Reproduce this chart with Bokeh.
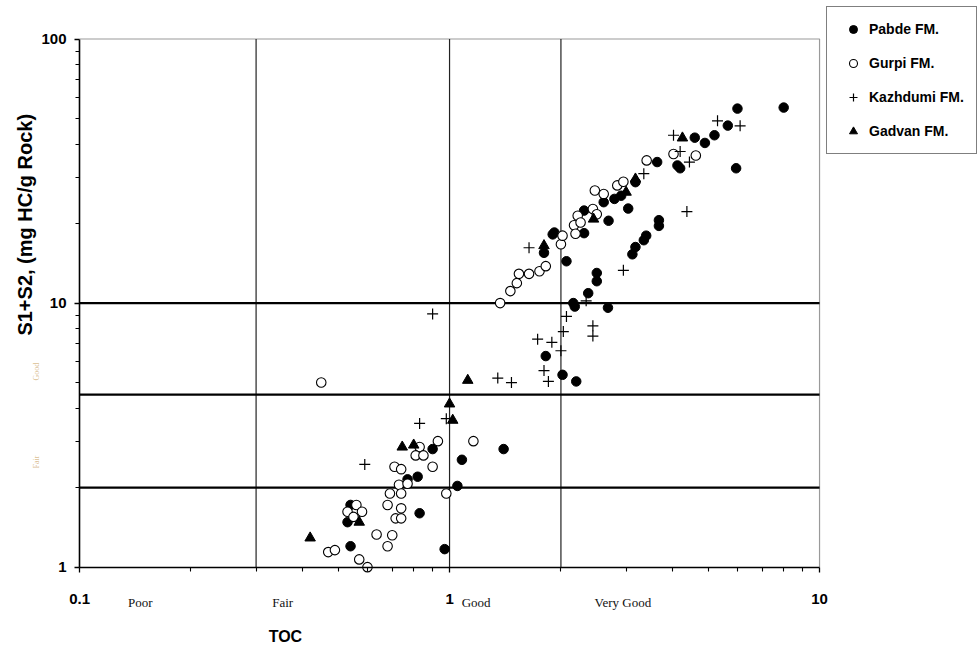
from bokeh.plotting import figure
from bokeh.models import Label, Legend, LegendItem, FixedTicker, CustomJSTickFormatter
from bokeh.embed import file_html
from bokeh.resources import INLINE

# TOC (wt%) and S1+S2 (mg HC/g rock) per formation
pabde_toc = [0.54, 0.54, 0.53, 0.77, 0.82, 0.83, 0.90, 0.97, 1.05, 1.08, 1.40,
             1.82, 2.02, 2.20, 2.16, 2.18, 2.68, 2.37, 2.50, 2.50, 3.12, 3.18,
             3.35, 3.40, 3.68, 3.68,
             1.80, 1.90, 1.92, 2.07, 2.31, 2.31, 2.61, 2.69, 2.79, 2.91, 3.04,
             3.18, 3.64, 4.13, 4.20, 4.60, 4.90, 5.20, 5.65, 5.95, 6.00, 8.00]
pabde_s1s2 = [1.20, 1.72, 1.48, 2.15, 2.20, 1.60, 2.80, 1.17, 2.03, 2.55, 2.80,
              6.30, 5.35, 5.05, 10.0, 9.70, 9.60, 10.9, 12.1, 13.0, 15.3, 16.3,
              17.3, 18.0, 19.6, 20.6,
              15.5, 18.2, 18.5, 14.4, 18.4, 22.4, 24.1, 20.5, 24.8, 25.5, 22.8,
              28.7, 34.2, 33.2, 32.4, 42.3, 40.4, 43.2, 47.0, 32.4, 54.5, 55.0]

gurpi_toc = [0.45, 0.93, 1.16, 0.83, 0.81, 0.85, 0.71, 0.74, 0.90, 0.73, 0.77,
             0.69, 0.74, 0.98, 0.68, 0.74, 0.715, 0.74, 0.56, 0.53, 0.58, 0.55,
             0.635, 0.70, 0.68, 0.47, 0.49, 0.57, 0.60,
             1.37, 1.46, 1.52, 1.54, 1.64, 1.75, 1.82, 2.00, 2.02, 2.17, 2.19,
             2.22, 2.26, 2.44, 2.50, 2.47, 2.61, 2.84, 2.95, 3.41, 4.03, 4.63]
gurpi_s1s2 = [5.00, 3.00, 3.00, 2.85, 2.65, 2.65, 2.40, 2.35, 2.40, 2.05, 2.07,
              1.90, 1.90, 1.90, 1.72, 1.67, 1.53, 1.53, 1.72, 1.62, 1.62, 1.55,
              1.33, 1.32, 1.20, 1.14, 1.16, 1.07, 1.00,
              10.0, 11.1, 11.9, 12.9, 12.9, 13.2, 13.8, 16.7, 18.0, 19.7, 18.3,
              21.4, 20.2, 22.7, 21.7, 26.7, 25.9, 27.9, 28.8, 34.7, 36.7, 36.2]

kazhdumi_toc = [0.59, 0.83, 0.98, 0.90, 1.35, 1.47, 1.73, 1.64, 1.80, 1.85,
                1.89, 2.00, 2.03, 2.07, 2.34, 2.44, 2.44, 2.95, 3.35, 4.03,
                4.20, 4.45, 4.38, 5.30, 6.10]
kazhdumi_s1s2 = [2.45, 3.50, 3.65, 9.10, 5.20, 5.00, 7.30, 16.2, 5.55, 5.05,
                 7.10, 6.60, 7.80, 8.90, 10.2, 8.20, 7.50, 13.3, 30.9, 43.2,
                 37.5, 34.2, 22.2, 49.0, 46.9]

gadvan_toc = [0.42, 0.57, 0.745, 0.80, 1.00, 1.02, 1.12, 1.80, 2.45, 3.00,
              3.18, 4.26]
gadvan_s1s2 = [1.29, 1.48, 2.85, 2.90, 4.15, 3.60, 5.10, 16.5, 20.8, 26.3,
               29.5, 42.2]

# class boundaries of the source-rock quality chart
toc_bounds = [0.3, 1, 2]
s1s2_bounds = [2, 4.5, 10]

x_major = [0.1, 1, 10]
x_minor = [0.2, 0.3, 0.4, 0.5, 0.6, 0.7, 0.8, 0.9, 2, 3, 4, 5, 6, 7, 8, 9]
y_major = [1, 10, 100]
y_minor = [2, 3, 4, 5, 6, 7, 8, 9, 20, 30, 40, 50, 60, 70, 80, 90]

X0, X1 = x_major[0], x_major[-1]
Y0, Y1 = y_major[0], y_major[-1]

# The frame fills the whole page; the plotting box spans 0.1-10 by 1-100
# and the room around it holds the tick labels, titles and the key.
p = figure(width=979, height=646, x_axis_type="log", y_axis_type="log",
           x_range=(0.06114, 27.06), y_range=(0.5006, 139.9),
           output_backend="svg", toolbar_location=None,
           min_border=0, min_border_left=0, min_border_right=0,
           min_border_top=0, min_border_bottom=0)
p.grid.visible = False
p.outline_line_color = None
p.background_fill_color = "white"
p.border_fill_color = "white"

fmt = CustomJSTickFormatter(code="return String(tick);")
p.xaxis.fixed_location = Y0
p.yaxis.fixed_location = X0
p.xaxis.bounds = (X0, X1)
p.yaxis.bounds = (Y0, Y1)
for ax, major, minor in ((p.xaxis, x_major, x_minor), (p.yaxis, y_major, y_minor)):
    ax.ticker = FixedTicker(ticks=major, minor_ticks=minor)
    ax.formatter = fmt
    ax.axis_line_color = "black"
    ax.axis_line_width = 1.6
    ax.major_tick_line_color = "black"
    ax.minor_tick_line_color = "black"
    ax.major_tick_line_width = 1.3
    ax.minor_tick_line_width = 1.1
    ax.major_tick_in = 0
    ax.minor_tick_in = 0
    ax.major_tick_out = 5
    ax.minor_tick_out = 4
    ax.major_label_text_font = "Liberation Sans"
    ax.major_label_text_font_style = "bold"
    ax.major_label_text_font_size = "15px"
    ax.major_label_text_color = "black"
p.xaxis.major_label_standoff = 22
p.yaxis.major_label_standoff = 8

# grey top and right edges of the plotting box
p.line([X0, X1, X1], [Y1, Y1, Y0], line_color="#9a9a9a", line_width=1.2)

# class boundary lines
for b in toc_bounds:
    p.segment(x0=b, x1=b, y0=Y0, y1=Y1, line_color="#222222", line_width=1.2)
for b in s1s2_bounds:
    p.segment(x0=X0, x1=X1, y0=b, y1=b, line_color="black", line_width=2.2)

r_pabde = p.scatter(pabde_toc, pabde_s1s2, marker="circle", size=9.5,
                    fill_color="black", line_color="black")
r_gurpi = p.scatter(gurpi_toc, gurpi_s1s2, marker="circle", size=9.5,
                    fill_color="white", line_color="black", line_width=1.1)
r_kaz = p.scatter(kazhdumi_toc, kazhdumi_s1s2, marker="cross", size=11,
                  line_color="black", line_width=1.2)
r_gad = p.scatter(gadvan_toc, gadvan_s1s2, marker="triangle", size=10.5,
                  fill_color="black", line_color="black")

legend = Legend(items=[LegendItem(label="Pabde FM.", renderers=[r_pabde]),
                       LegendItem(label="Gurpi FM.", renderers=[r_gurpi]),
                       LegendItem(label="Kazhdumi FM.", renderers=[r_kaz]),
                       LegendItem(label="Gadvan FM.", renderers=[r_gad])],
                location=(826, 492), padding=12, spacing=14,
                glyph_height=20, label_height=20, glyph_width=28,
                label_standoff=2, margin=0,
                border_line_color="black", border_line_width=1.2,
                background_fill_color="white", background_fill_alpha=1,
                label_text_font="Liberation Sans",
                label_text_font_style="bold", label_text_font_size="14px",
                label_text_color="black")
p.add_layout(legend)

# axis titles
p.add_layout(Label(x=0.0714, y=19.8, angle=1.5708,
                   text="S1+S2, (mg HC/g Rock)", text_align="center",
                   text_baseline="middle", text_font="Liberation Sans",
                   text_font_style="bold", text_font_size="20px",
                   text_color="black"))
p.add_layout(Label(x=0.36, y=0.545, text="TOC", text_align="center",
                   text_baseline="middle", text_font="Liberation Sans",
                   text_font_style="bold", text_font_size="16px",
                   text_color="black"))

# TOC quality classes
for txt, xv in (("Poor", 0.146), ("Fair", 0.354), ("Good", 1.18),
                ("Very Good", 2.94)):
    p.add_layout(Label(x=xv, y=0.734, text=txt, text_align="center",
                       text_baseline="middle", text_font="Liberation Serif",
                       text_font_size="13px", text_color="#111111"))

# faint class names beside the S1+S2 axis
for txt, yv in (("Good", 5.5), ("Fair", 2.5)):
    p.add_layout(Label(x=0.0765, y=yv, angle=1.5708, text=txt,
                       text_align="center", text_baseline="middle",
                       text_font="Liberation Serif", text_font_size="8px",
                       text_color="#c8a060", text_alpha=0.7))

open("out.html", "w").write(file_html(p, INLINE))
